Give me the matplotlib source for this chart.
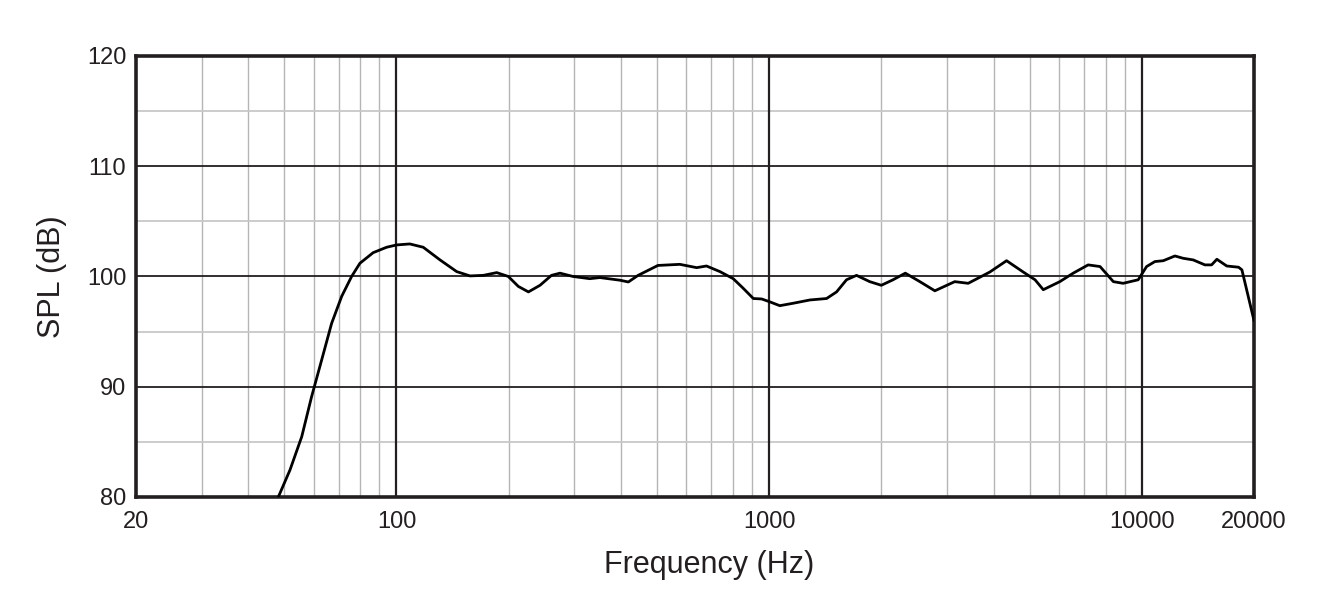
import numpy as np
import matplotlib.pyplot as plt
from matplotlib.ticker import FixedLocator, NullFormatter

plt.rcParams['font.family'] = ['Liberation Sans', 'DejaVu Sans']

# frequency response
freq_hz = [48.2, 51.8, 55.7, 59.2, 63.0, 67.0, 71.3, 75.8, 79.8, 86.6, 94.1, 100.1,
           108.6, 118, 130.9, 145.1, 157.5, 171, 185.8, 199.6, 212.3, 226, 242.8,
           260.6, 274.7, 297.7, 330, 351.5, 398, 419, 445, 503, 576, 639, 679, 738,
           801, 852, 907, 955, 1004, 1068, 1160, 1287, 1426, 1517, 1613, 1716, 1862,
           2000, 2150, 2320, 2538, 2784, 3148, 3421, 3909, 4336, 4808, 5170, 5440,
           6025, 6545, 7178, 7726, 8388, 8910, 9780, 10300, 10840, 11420, 12270,
           12910, 13740, 14770, 15390, 15900, 16900, 18180, 18560, 20000]
spl_db = [80.0, 82.45, 85.47, 89.1, 92.43, 95.75, 98.2, 100.0, 101.2, 102.16, 102.65, 102.86,
          102.95, 102.65, 101.5, 100.44, 100.05, 100.1, 100.35, 100.0, 99.1, 98.6, 99.2,
          100.1, 100.3, 100.0, 99.8, 99.9, 99.66, 99.5, 100.1, 101.0, 101.1, 100.8, 100.95, 100.44,
          99.8, 98.93, 98.0, 97.96, 97.7, 97.35, 97.57, 97.87, 98.0, 98.6, 99.7, 100.1, 99.53,
          99.2, 99.7, 100.3, 99.53, 98.7, 99.53, 99.38, 100.4, 101.43, 100.4, 99.7, 98.8,
          99.53, 100.3, 101.05, 100.9, 99.53, 99.38, 99.7, 100.9, 101.35, 101.43, 101.86,
          101.65, 101.5, 101.05, 101.05, 101.56, 100.95, 100.84, 100.6, 96.0]

x_ticks = [20, 100, 1000, 10000, 20000]
x_tick_labels = ['20', '100', '1000', '10000', '20000']
y_ticks = [80, 90, 100, 110, 120]

fig = plt.figure(figsize=(13.2, 5.91), dpi=100)
ax = fig.add_axes([0.1030, 0.1591, 0.8470, 0.7462])

ax.set_xscale('log')
ax.set_xlim(20, 20000)
ax.set_ylim(80, 120)

# light grid
minor_x = [m * d for d in (10, 100, 1000) for m in range(2, 10) if 20 < m * d < 20000]
for xv in minor_x:
    ax.axvline(xv, color='#b5b5b5', lw=1.0, zorder=1)
for yv in (85, 95, 105, 115):
    ax.axhline(yv, color='#c8c8c8', lw=1.3, zorder=1)
# dark grid
for xv in (100, 1000, 10000):
    ax.axvline(xv, color='#231f20', lw=1.6, zorder=2)
for yv in (90, 100, 110):
    ax.axhline(yv, color='#231f20', lw=1.3, zorder=2)

ax.plot(freq_hz, spl_db, color='black', lw=2.0, zorder=3,
        solid_joinstyle='round', solid_capstyle='round')

ax.xaxis.set_major_locator(FixedLocator(x_ticks))
ax.set_xticklabels(x_tick_labels)
ax.xaxis.set_minor_formatter(NullFormatter())
ax.xaxis.set_minor_locator(FixedLocator([]))
ax.set_yticks(y_ticks)
ax.tick_params(axis='both', length=0, labelsize=17, colors='#231f20')
ax.tick_params(axis='x', pad=10)
ax.tick_params(axis='y', pad=7)

for s in ax.spines.values():
    s.set_linewidth(2.6)
    s.set_color('#231f20')

ax.set_xlabel('Frequency (Hz)', fontsize=22, color='#231f20')
ax.xaxis.set_label_coords(0.5125, -0.12)
ax.set_ylabel('SPL (dB)', fontsize=22, color='#231f20', labelpad=14)

plt.savefig('out.png', dpi=100)
